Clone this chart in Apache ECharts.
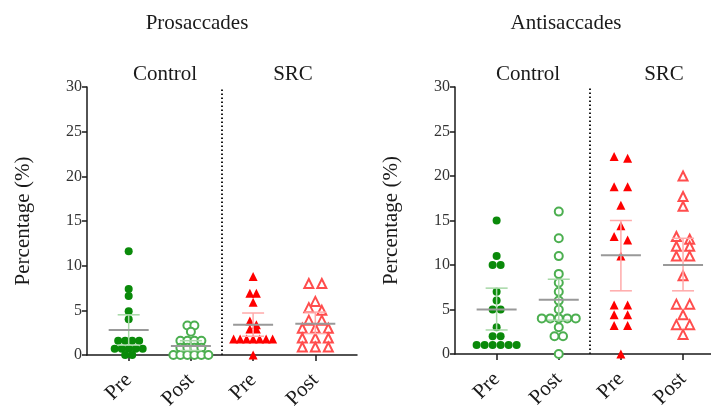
<!DOCTYPE html>
<html>
<head>
<meta charset="utf-8">
<script src="https://cdn.jsdelivr.net/npm/echarts@6/dist/echarts.min.js"></script>
<style>
  html, body { margin: 0; padding: 0; background: #fff; }
  #chart { width: 711px; height: 409px; }
</style>
</head>
<body>
<div id="chart"></div>
<script>
// Beeswarm of % errors, pre/post, control vs SRC, two panels (pro / anti saccades).
var categories = ['Pre', 'Post', 'Pre', 'Post'];
var groupLabels = ['Control', 'SRC'];
var panelTitles = ['Prosaccades', 'Antisaccades'];

// Prosaccades
var proControlPre  = [11.6, 7.4, 6.6, 4.9, 4.0, 1.6, 1.6, 1.6, 1.6, 0.7, 0.7, 0.7, 0.7, 0.7, 0, 0];
var proControlPost = [3.3, 3.3, 2.6, 1.6, 1.6, 1.6, 1.6, 0.8, 0.8, 0.8, 0.8, 0, 0, 0, 0, 0, 0];
var proSrcPre      = [8.8, 6.9, 6.9, 5.9, 3.8, 3.4, 2.9, 2.9, 1.8, 1.8, 1.8, 1.8, 1.8, 1.8, 1.8, 0];
var proSrcPost     = [8.0, 8.0, 6.0, 5.3, 5.0, 3.9, 3.9, 3.0, 3.0, 3.0, 1.9, 1.9, 1.9, 0.9, 0.9, 0.9];
var proMean = [2.8, 1.0, 3.4, 3.5];
var proLow  = [1.1, 0.5, 2.1, 2.4];
var proHigh = [4.5, 1.6, 4.7, 4.8];

// Antisaccades
var antiControlPre  = [15, 11, 10, 10, 7, 6, 5, 5, 3, 2, 2, 1, 1, 1, 1, 1, 1];
var antiControlPost = [16, 13, 11, 9, 8, 7, 6, 5, 4, 4, 4, 4, 4, 3, 2, 2, 0];
var antiSrcPre      = [22.2, 22.0, 18.8, 18.8, 16.7, 14.4, 13.2, 12.8, 11.0, 5.5, 5.5, 4.4, 4.4, 3.2, 3.2, 0];
var antiSrcPost     = [20.0, 17.7, 16.6, 13.2, 12.9, 12.1, 12.1, 11.0, 11.0, 8.8, 5.6, 5.6, 4.4, 3.3, 3.3, 2.2];
var antiMean = [5.0, 6.1, 11.1, 10.0];
var antiLow  = [2.7, 3.8, 7.1, 7.1];
var antiHigh = [7.4, 8.4, 15.0, 13.0];

var yTicks = [0, 5, 10, 15, 20, 25, 30];

var FONT = 'Liberation Serif';
var INK = '#1a1a1a';
var markers = [
  { symbol: 'circle', color: '#0a8a0a', size: 8 },
  { symbol: 'emptyCircle', color: '#4caf50', size: 8 },
  { symbol: 'triangle', color: '#ff0000', size: 9 },
  { symbol: 'emptyTriangle', color: '#ff4d4d', size: 9 }
];
var barColors = ['#a6d8a6', '#a6d8a6', '#ffaaaa', '#ffaaaa'];

// group near-equal values into rows and spread each row sideways (pixels)
function swarm(values, cat, spacing) {
  var sorted = values.slice().sort(function (a, b) { return b - a; });
  var rows = [];
  sorted.forEach(function (v) {
    var row = rows[rows.length - 1];
    if (row && row[0] - v < 0.5) row.push(v); else rows.push([v]);
  });
  var items = [];
  rows.forEach(function (row) {
    row.forEach(function (v, i) {
      items.push({ value: [cat, v], symbolOffset: [(i - (row.length - 1) / 2) * spacing, 0] });
    });
  });
  return items;
}

function summarySeries(idx, mean, low, high) {
  return {
    type: 'custom', xAxisIndex: idx, yAxisIndex: idx, z: 5, silent: true,
    data: mean.map(function (m, i) { return [i + 1, m, low[i], high[i]]; }),
    renderItem: function (params, api) {
      var c = api.value(0);
      var pm = api.coord([c, api.value(1)]);
      var pl = api.coord([c, api.value(2)]);
      var ph = api.coord([c, api.value(3)]);
      var col = barColors[params.dataIndex];
      var bar = { stroke: col, lineWidth: 1.5 };
      return {
        type: 'group',
        children: [
          { type: 'line', shape: { x1: pm[0], y1: pl[1], x2: pm[0], y2: ph[1] }, style: bar },
          { type: 'line', shape: { x1: pm[0] - 11, y1: pl[1], x2: pm[0] + 11, y2: pl[1] }, style: bar },
          { type: 'line', shape: { x1: pm[0] - 11, y1: ph[1], x2: pm[0] + 11, y2: ph[1] }, style: bar },
          { type: 'line', shape: { x1: pm[0] - 20, y1: pm[1], x2: pm[0] + 20, y2: pm[1] },
            style: { stroke: '#999', lineWidth: 2 } }
        ]
      };
    }
  };
}

function scatterSeries(idx, cat, values, spacing, withDivider) {
  var mk = markers[cat - 1];
  var s = {
    type: 'scatter', xAxisIndex: idx, yAxisIndex: idx, clip: false, silent: true,
    symbol: mk.symbol, symbolSize: mk.size,
    itemStyle: { color: mk.color, borderWidth: 1.5, opacity: 1 },
    data: swarm(values, cat, spacing)
  };
  if (withDivider) {
    s.markLine = {
      silent: true, symbol: 'none', label: { show: false },
      lineStyle: { color: INK, width: 2, type: [1.5, 2.5] },
      data: [{ xAxis: 2.5 }]
    };
  }
  return s;
}

function xAxisFor(idx, max) {
  return {
    type: 'value', gridIndex: idx, min: 0.33, max: max,
    axisLine: { lineStyle: { color: INK, width: 1.5 } },
    axisTick: { show: true, customValues: [1, 2, 3, 4], length: 6, lineStyle: { color: INK, width: 1.5 } },
    axisLabel: {
      customValues: [1, 2, 3, 4], rotate: 45, margin: 22,
      fontFamily: FONT, fontSize: 21, color: INK,
      formatter: function (v) { return categories[Math.round(v) - 1]; }
    },
    splitLine: { show: false }
  };
}

function yAxisFor(idx) {
  return {
    type: 'value', gridIndex: idx, min: yTicks[0], max: yTicks[yTicks.length - 1], interval: 5,
    name: 'Percentage (%)', nameLocation: 'middle', nameGap: 53,
    nameTextStyle: { fontFamily: FONT, fontSize: 21, color: INK },
    axisLine: { show: true, lineStyle: { color: INK, width: 1.5 } },
    axisTick: { show: true, length: 5, lineStyle: { color: INK, width: 1.5 } },
    axisLabel: { fontFamily: FONT, fontSize: 16, color: '#333', margin: 5 },
    splitLine: { show: false }
  };
}

function titleAt(text, x, y) {
  return { text: text, left: x, top: y, textAlign: 'center',
    textStyle: { fontFamily: FONT, fontSize: 21, fontWeight: 'normal', color: INK } };
}

var chart = echarts.init(document.getElementById('chart'));
chart.setOption({
  animation: false,
  backgroundColor: '#fff',
  title: [
    titleAt(panelTitles[0], 192, 8),
    titleAt(panelTitles[1], 561, 8),
    titleAt(groupLabels[0], 160, 59),
    titleAt(groupLabels[1], 288, 59),
    titleAt(groupLabels[0], 523, 59),
    titleAt(groupLabels[1], 659, 59)
  ],
  grid: [
    { left: 87, top: 87, width: 270, height: 268, outerBoundsMode: 'none' },
    { left: 455, top: 87, width: 256, height: 267, outerBoundsMode: 'none' }
  ],
  xAxis: [xAxisFor(0, 4.67), xAxisFor(1, 4.45)],
  yAxis: [yAxisFor(0), yAxisFor(1)],
  series: [
    scatterSeries(0, 1, proControlPre, 7, false),
    scatterSeries(0, 2, proControlPost, 7, false),
    scatterSeries(0, 3, proSrcPre, 6.5, true),
    scatterSeries(0, 4, proSrcPost, 13, false),
    summarySeries(0, proMean, proLow, proHigh),
    scatterSeries(1, 1, antiControlPre, 8, false),
    scatterSeries(1, 2, antiControlPost, 8.5, false),
    scatterSeries(1, 3, antiSrcPre, 13.5, true),
    scatterSeries(1, 4, antiSrcPost, 13.3, false),
    summarySeries(1, antiMean, antiLow, antiHigh)
  ]
});
</script>
</body>
</html>
